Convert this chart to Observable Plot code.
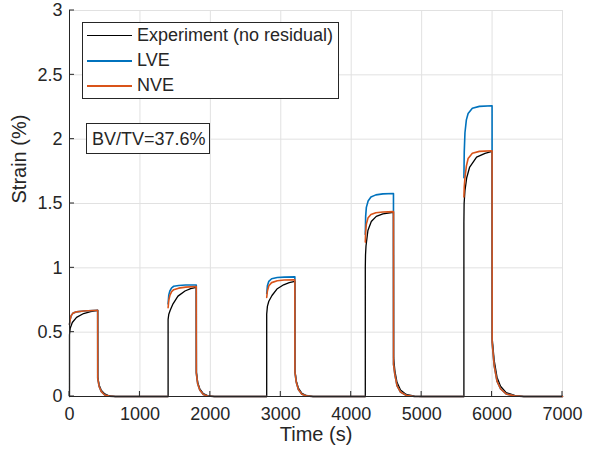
<!DOCTYPE html>
<html>
<head>
<meta charset="utf-8">
<script src="https://cdn.jsdelivr.net/npm/d3@7"></script>
<script src="https://cdn.jsdelivr.net/npm/@observablehq/plot@0.6"></script>
<style>
  html, body { margin: 0; padding: 0; background: #fff; }
  #wrap { position: relative; width: 589px; height: 456px; font-family: "Liberation Sans", Arial, Helvetica, sans-serif; color: #262626; }
  #legend { position: absolute; left: 82px; top: 22px; width: 255px; height: 75px; border: 1px solid #262626; background: #fff; font-size: 18px; }
  .row { position: absolute; left: 0; height: 25px; display: flex; align-items: center; }
  .swatch { width: 45px; height: 0; margin-left: 4px; margin-right: 5px; }
  #note { position: absolute; left: 86px; top: 123px; width: 124px; height: 31px; border: 1px solid #262626; background: #fff; font-size: 18px; line-height: 30px; padding-left: 5px; box-sizing: border-box; }
</style>
</head>
<body>
<div id="wrap"></div>
<script>
// ---- data (time in s, strain in %) ----
const seriesNames = ["Experiment (no residual)", "LVE", "NVE"];
const seriesColors = ["#000000", "#0072BD", "#D95319"];
const xTicks = [0, 1000, 2000, 3000, 4000, 5000, 6000, 7000];
const yTicks = [0, 0.5, 1, 1.5, 2, 2.5, 3];
const noteText = "BV/TV=37.6%";

const experiment = [
  [0,0],[0,0.48],[10,0.53],[40,0.575],[100,0.615],[200,0.645],[300,0.66],[400,0.67],
  [402,0.15],[420,0.09],[450,0.05],[500,0.02],[560,0.006],[650,0],
  [1400,0],[1400,0.6],[1410,0.64],[1430,0.67],[1470,0.72],[1540,0.78],[1640,0.82],[1720,0.838],[1800,0.848],
  [1802,0.19],[1820,0.11],[1850,0.06],[1900,0.022],[1960,0.007],[2060,0],
  [2800,0],[2800,0.64],[2810,0.7],[2830,0.74],[2875,0.785],[2945,0.835],[3040,0.868],[3120,0.885],[3200,0.895],
  [3202,0.2],[3220,0.12],[3250,0.065],[3300,0.025],[3360,0.008],[3460,0],
  [4200,0],[4200,1.0],[4203,1.1],[4210,1.17],[4237,1.29],[4285,1.36],[4356,1.4],[4450,1.42],[4600,1.432],
  [4602,0.3],[4620,0.2],[4650,0.11],[4700,0.05],[4780,0.016],[4900,0.003],[5000,0],
  [5600,0],[5600,1.35],[5603,1.5],[5615,1.6],[5640,1.7],[5680,1.78],[5780,1.86],[5900,1.89],[6000,1.905],
  [6002,0.45],[6030,0.28],[6070,0.15],[6120,0.08],[6200,0.03],[6320,0.008],[6450,0],[7000,0]
];

const lve = [
  [0,0.56],[10,0.6],[25,0.63],[50,0.648],[100,0.658],[200,0.665],[400,0.67],
  [401,0.14],[420,0.08],[450,0.04],[500,0.012],[560,0.003],[650,0],[1400,0],[1400,null],
  [1400,0.72],[1410,0.79],[1425,0.82],[1450,0.845],[1480,0.857],[1550,0.863],[1650,0.866],[1800,0.867],
  [1801,0.18],[1820,0.1],[1850,0.05],[1900,0.015],[1960,0.004],[2050,0],[2800,0],[2800,null],
  [2800,0.8],[2810,0.86],[2830,0.895],[2870,0.915],[2950,0.925],[3050,0.928],[3200,0.93],
  [3201,0.19],[3220,0.11],[3250,0.055],[3300,0.017],[3360,0.005],[3450,0],[4200,0],[4200,null],
  [4200,1.26],[4205,1.4],[4215,1.47],[4240,1.52],[4280,1.55],[4350,1.567],[4450,1.575],[4600,1.578],
  [4601,0.25],[4620,0.17],[4650,0.085],[4700,0.035],[4780,0.01],[4900,0],[5600,0],[5600,null],
  [5600,1.7],[5605,1.9],[5615,2.05],[5635,2.15],[5660,2.2],[5720,2.24],[5820,2.255],[6000,2.26],
  [6001,0.42],[6030,0.24],[6070,0.12],[6120,0.06],[6200,0.02],[6320,0.005],[6450,0],[7000,0]
];

const nve = [
  [0,0.56],[10,0.6],[25,0.63],[50,0.648],[100,0.658],[200,0.665],[400,0.67],
  [401,0.14],[420,0.08],[450,0.04],[500,0.012],[560,0.003],[650,0],[1400,0],[1400,null],
  [1400,0.69],[1410,0.75],[1425,0.785],[1450,0.815],[1480,0.83],[1550,0.842],[1650,0.85],[1800,0.855],
  [1801,0.18],[1820,0.1],[1850,0.05],[1900,0.015],[1960,0.004],[2050,0],[2800,0],[2800,null],
  [2800,0.77],[2810,0.82],[2830,0.86],[2870,0.885],[2950,0.9],[3050,0.905],[3200,0.907],
  [3201,0.19],[3220,0.11],[3250,0.055],[3300,0.017],[3360,0.005],[3450,0],[4200,0],[4200,null],
  [4200,1.2],[4205,1.28],[4215,1.34],[4240,1.39],[4280,1.415],[4350,1.428],[4450,1.434],[4600,1.437],
  [4601,0.25],[4620,0.17],[4650,0.085],[4700,0.035],[4780,0.01],[4900,0],[5600,0],[5600,null],
  [5600,1.55],[5605,1.63],[5615,1.7],[5635,1.79],[5660,1.85],[5720,1.89],[5820,1.905],[6000,1.91],
  [6001,0.42],[6030,0.24],[6070,0.12],[6120,0.06],[6200,0.02],[6320,0.005],[6450,0],[7000,0]
];

const allSeries = [experiment, lve, nve];
const axisColor = "#262626";
const gridColor = "#e1e1e1";

const lineMarks = allSeries.map((data, i) =>
  Plot.line(data, {
    x: d => d[0],
    y: d => (d[1] == null ? NaN : d[1]),
    stroke: seriesColors[i],
    strokeWidth: i === 0 ? 1.3 : 1.6,
    curve: "linear"
  })
);

const chart = Plot.plot({
  width: 589,
  height: 456,
  marginLeft: 69,
  marginRight: 27,
  marginTop: 10,
  marginBottom: 60,
  style: { fontFamily: '"Liberation Sans", Arial, Helvetica, sans-serif', fontSize: "18px", color: axisColor, background: "white" },
  x: { domain: [0, 7000] },
  y: { domain: [0, 3] },
  marks: [
    Plot.gridX(xTicks, { stroke: gridColor, strokeOpacity: 1 }),
    Plot.gridY(yTicks, { stroke: gridColor, strokeOpacity: 1 }),
    ...lineMarks,
    Plot.ruleX([0], { stroke: axisColor }),
    Plot.ruleY([0], { stroke: axisColor }),
    Plot.axisX(xTicks, { tickSize: 0, tickPadding: 11, tickFormat: d => String(d), label: null, fill: axisColor, fontSize: 18 }),
    Plot.axisY(yTicks, { tickSize: 0, tickPadding: 7, tickFormat: d => String(d), label: null, fill: axisColor, fontSize: 18 }),
    Plot.text(["Time (s)"], { frameAnchor: "bottom", dy: 44, fontSize: 20, fill: axisColor }),
    Plot.text(["Strain (%)"], { frameAnchor: "left", dx: -50, rotate: -90, fontSize: 20, fill: axisColor })
  ]
});

const wrap = document.getElementById("wrap");
wrap.appendChild(chart);

// inward tick marks, positioned through the plot's own scales
const ys = chart.scale("y"), xs = chart.scale("x");
const svg = d3.select(chart);
const x0 = xs.apply(0), y0 = ys.apply(0);
svg.append("g").selectAll("line").data(yTicks).join("line")
  .attr("x1", x0).attr("x2", x0 + 5)
  .attr("y1", d => ys.apply(d)).attr("y2", d => ys.apply(d))
  .attr("stroke", axisColor);
svg.append("g").selectAll("line").data(xTicks).join("line")
  .attr("x1", d => xs.apply(d)).attr("x2", d => xs.apply(d))
  .attr("y1", y0).attr("y2", y0 - 5)
  .attr("stroke", axisColor);

// legend
const legend = document.createElement("div");
legend.id = "legend";
seriesNames.forEach((name, i) => {
  const row = document.createElement("div");
  row.className = "row";
  row.style.top = (i * 25) + "px";
  const sw = document.createElement("div");
  sw.className = "swatch";
  sw.style.borderTop = (i === 0 ? 1 : 2) + "px solid " + seriesColors[i];
  const t = document.createElement("span");
  t.textContent = name;
  row.appendChild(sw); row.appendChild(t);
  legend.appendChild(row);
});
wrap.appendChild(legend);

const note = document.createElement("div");
note.id = "note";
note.textContent = noteText;
wrap.appendChild(note);
</script>
</body>
</html>
